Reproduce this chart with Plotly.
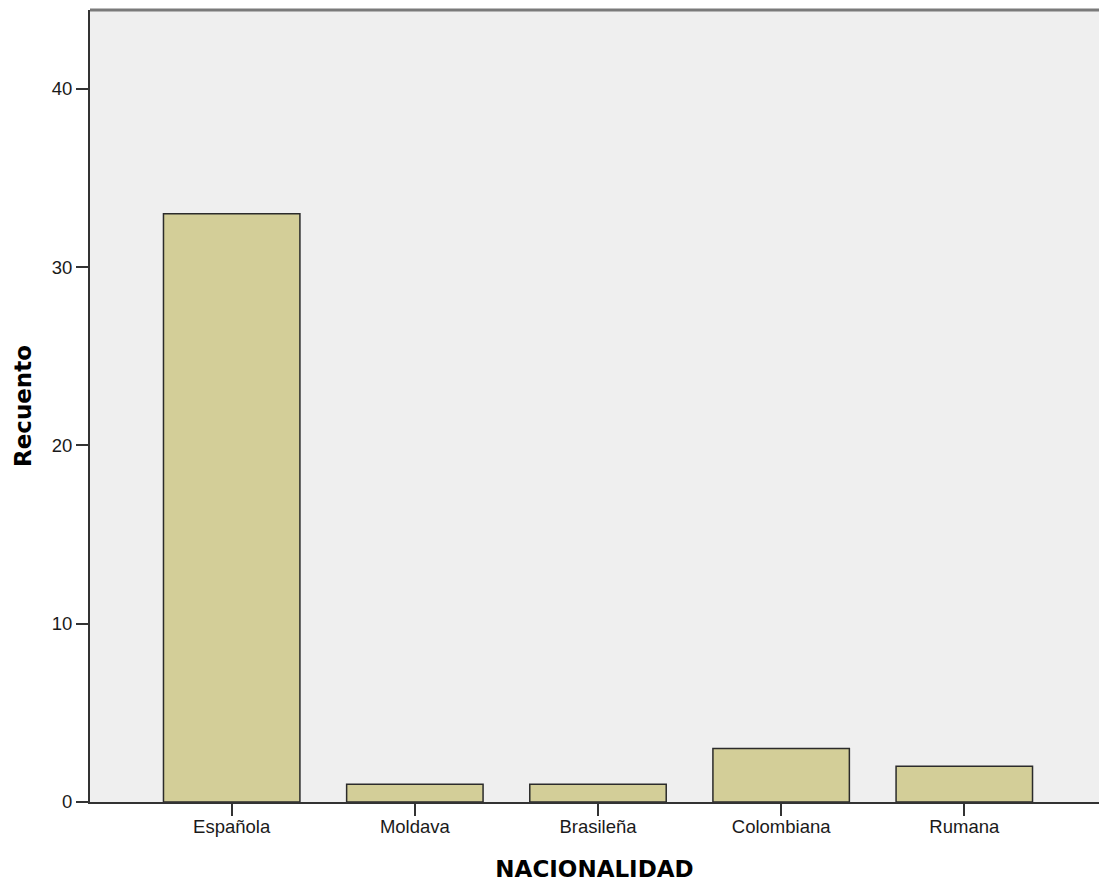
import plotly.graph_objects as go

categories = ["Española", "Moldava", "Brasileña", "Colombiana", "Rumana"]
counts = [33, 1, 1, 3, 2]
y_ticks = [0, 10, 20, 30, 40]

fig = go.Figure()
fig.add_trace(go.Bar(
    x=list(range(len(categories))),
    y=counts,
    width=0.745,
    marker=dict(color="#D3CE98", line=dict(color="#2b2b2b", width=1.5)),
))

FONT = "Liberation Sans, Arial, sans-serif"
TFONT = "DejaVu Sans, Liberation Sans, Arial, sans-serif"
fig.update_layout(
    width=1099, height=885,
    margin=dict(l=90, r=0, t=10, b=83),
    paper_bgcolor="white",
    plot_bgcolor="#EFEFEF",
    showlegend=False,
    font=dict(family=FONT, color="#000000"),
    xaxis=dict(
        range=[-0.7737, 4.7355],
        tickmode="array",
        tickvals=list(range(len(categories))),
        ticktext=categories,
        ticks="outside", ticklen=12, tickwidth=1.5, tickcolor="#333333",
        ticklabelstandoff=-5,
        tickfont=dict(size=18.5, family=FONT, color="#1a1a1a"),
        showline=True, linecolor="#333333", linewidth=2,
        showgrid=False, zeroline=False,
        title=dict(text="<b>NACIONALIDAD</b>", font=dict(size=23, family=TFONT), standoff=25),
    ),
    yaxis=dict(
        range=[0, 44.43],
        tickmode="array",
        tickvals=y_ticks,
        ticktext=[str(v) for v in y_ticks],
        ticks="outside", ticklen=12, tickwidth=1.5, tickcolor="#333333",
        tickfont=dict(size=18.5, family=FONT, color="#1a1a1a"),
        showline=True, linecolor="#333333", linewidth=2,
        showgrid=False, zeroline=False,
        title=dict(text="<b>Recuento</b>", font=dict(size=23, family=TFONT), standoff=14),
    ),
)
fig.add_shape(type="line", xref="paper", yref="paper", x0=0, x1=1, y0=1, y1=1,
              line=dict(color="#7a7a7a", width=3))

fig.write_html(
    "out.html",
    config={"displayModeBar": False},
    post_script="document.body.style.margin='0';document.documentElement.style.overflow='hidden';",
)
